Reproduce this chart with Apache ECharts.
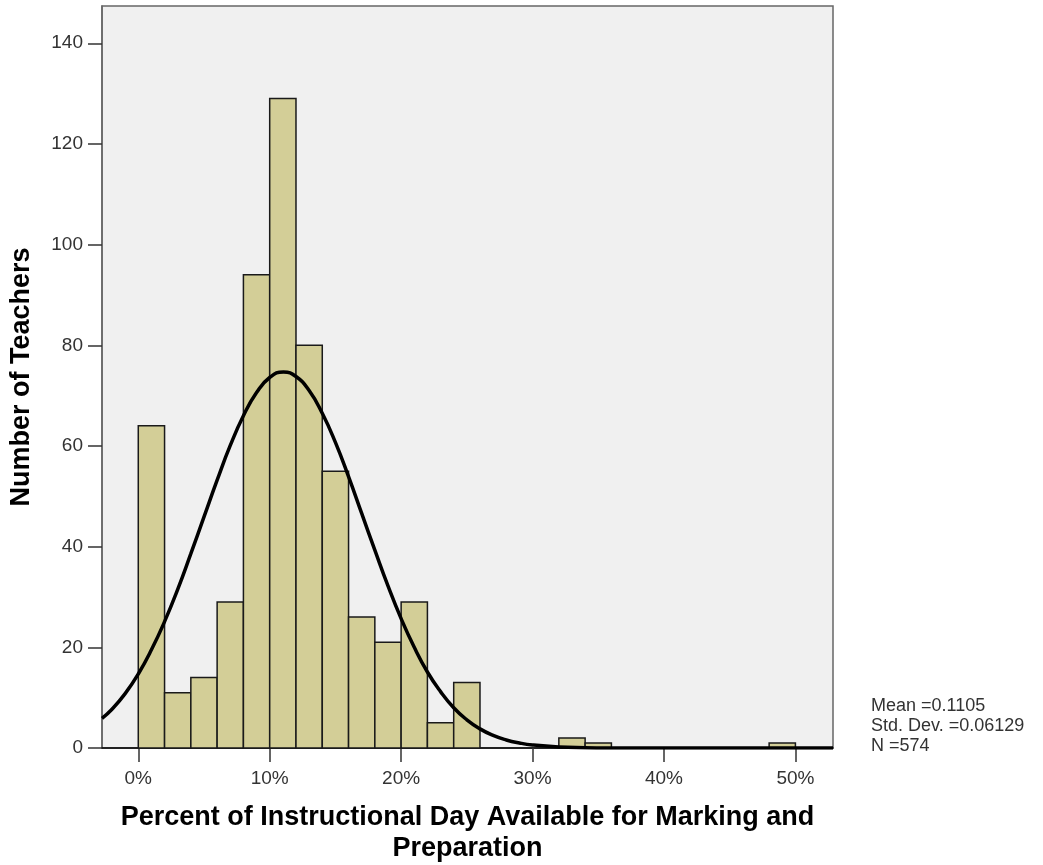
<!DOCTYPE html>
<html>
<head>
<meta charset="utf-8">
<style>html,body{margin:0;padding:0;background:#fff}#chart{width:1043px;height:865px}</style>
<script src="https://cdn.jsdelivr.net/npm/echarts@6/dist/echarts.min.js"></script>
</head>
<body>
<div id="chart"></div>
<script>
// Histogram bins (start of each 2% bin) and counts
const binStarts = [0.00,0.02,0.04,0.06,0.08,0.10,0.12,0.14,0.16,0.18,0.20,0.22,0.24,0.26,0.28,0.30,0.32,0.34,0.36,0.38,0.40,0.42,0.44,0.46,0.48];
const counts    = [64,  11,  14,  29,  94,  129, 80,  55,  26,  21,  29,  5,   13,  0,   0,   0,   2,   1,   0,   0,   0,   0,   0,   0,   1];
const BIN_W = 0.02;
// Normal curve (x, count)
const curveX = [-0.0276,-0.02,-0.01,0.00,0.01,0.02,0.03,0.04,0.05,0.06,0.07,0.08,0.09,0.10,0.1105,0.12,0.13,0.14,0.15,0.16,0.17,0.18,0.19,0.20,0.21,0.22,0.23,0.24,0.25,0.26,0.27,0.28,0.29,0.30,0.32,0.34,0.36,0.40,0.5286];
const curveY = [5.9,7.7,10.8,14.7,19.5,25.1,31.5,38.6,45.9,53.2,60.1,66.0,70.6,73.6,74.7,73.8,71.0,66.5,60.7,53.9,46.6,39.3,32.2,25.7,20.0,15.1,11.2,8.0,5.6,3.8,2.5,1.6,1.0,0.6,0.2,0.07,0.02,0,0];
const xTicks = [0,0.1,0.2,0.3,0.4,0.5];
const yTicks = [0,20,40,60,80,100,120,140];
const statLines = ['Mean =0.1105','Std. Dev. =0.06129','N =574'];

const FONT = 'Liberation Sans, Arial, sans-serif';
const chart = echarts.init(document.getElementById('chart'));
chart.setOption({
  animation:false,
  backgroundColor:'#ffffff',
  grid:{left:102,top:6,right:210,bottom:117,show:true,backgroundColor:'#F0F0F0',borderColor:'#666666',borderWidth:1.5,containLabel:false,outerBoundsMode:'none'},
  xAxis:{
    type:'value',min:-0.0276,max:0.5286,
    name:'Percent of Instructional Day Available for Marking and\nPreparation',
    nameLocation:'middle',nameGap:54,
    nameTextStyle:{fontFamily:FONT,fontWeight:'bold',fontSize:27,color:'#000',lineHeight:31},
    axisLine:{show:true,onZero:false,lineStyle:{color:'#000',width:1.5}},
    axisTick:{show:true,customValues:xTicks,length:14,lineStyle:{color:'#333',width:1.5}},
    axisLabel:{customValues:xTicks,formatter:v=>Math.round(v*100)+'%',fontFamily:FONT,fontSize:19,color:'#333',margin:21},
    splitLine:{show:false}
  },
  yAxis:{
    type:'value',min:0,max:147.4,
    name:'Number of Teachers',nameLocation:'middle',nameGap:67,nameRotate:90,
    nameTextStyle:{fontFamily:FONT,fontWeight:'bold',fontSize:27,color:'#000'},
    axisLine:{show:true,onZero:false,lineStyle:{color:'#666',width:1.5}},
    axisTick:{show:true,customValues:yTicks,length:14,lineStyle:{color:'#333',width:1.5}},
    axisLabel:{customValues:yTicks,fontFamily:FONT,fontSize:19,color:'#333',margin:19},
    splitLine:{show:false}
  },
  series:[
    {
      type:'custom',
      data:binStarts.map((s,i)=>[s,counts[i]]),
      renderItem:function(params,api){
        const x0=api.value(0), y=api.value(1);
        if(!y) return null;
        const p0=api.coord([x0,y]);
        const p1=api.coord([x0+BIN_W,0]);
        return {type:'rect',shape:{x:p0[0],y:p0[1],width:p1[0]-p0[0],height:p1[1]-p0[1]},
          style:{fill:'#D3CE97',stroke:'#1a1a1a',lineWidth:1.5}};
      },
      z:2
    },
    {
      type:'line',
      data:curveX.map((x,i)=>[x,curveY[i]]),
      smooth:true,showSymbol:false,symbol:'none',
      lineStyle:{color:'#000',width:3.5},
      clip:true,z:3
    }
  ],
  graphic:[{
    type:'text',left:871,top:696,
    style:{text:statLines.join('\n'),fontFamily:FONT,fontSize:18,lineHeight:20,fill:'#333'}
  }]
});
</script>
</body>
</html>
